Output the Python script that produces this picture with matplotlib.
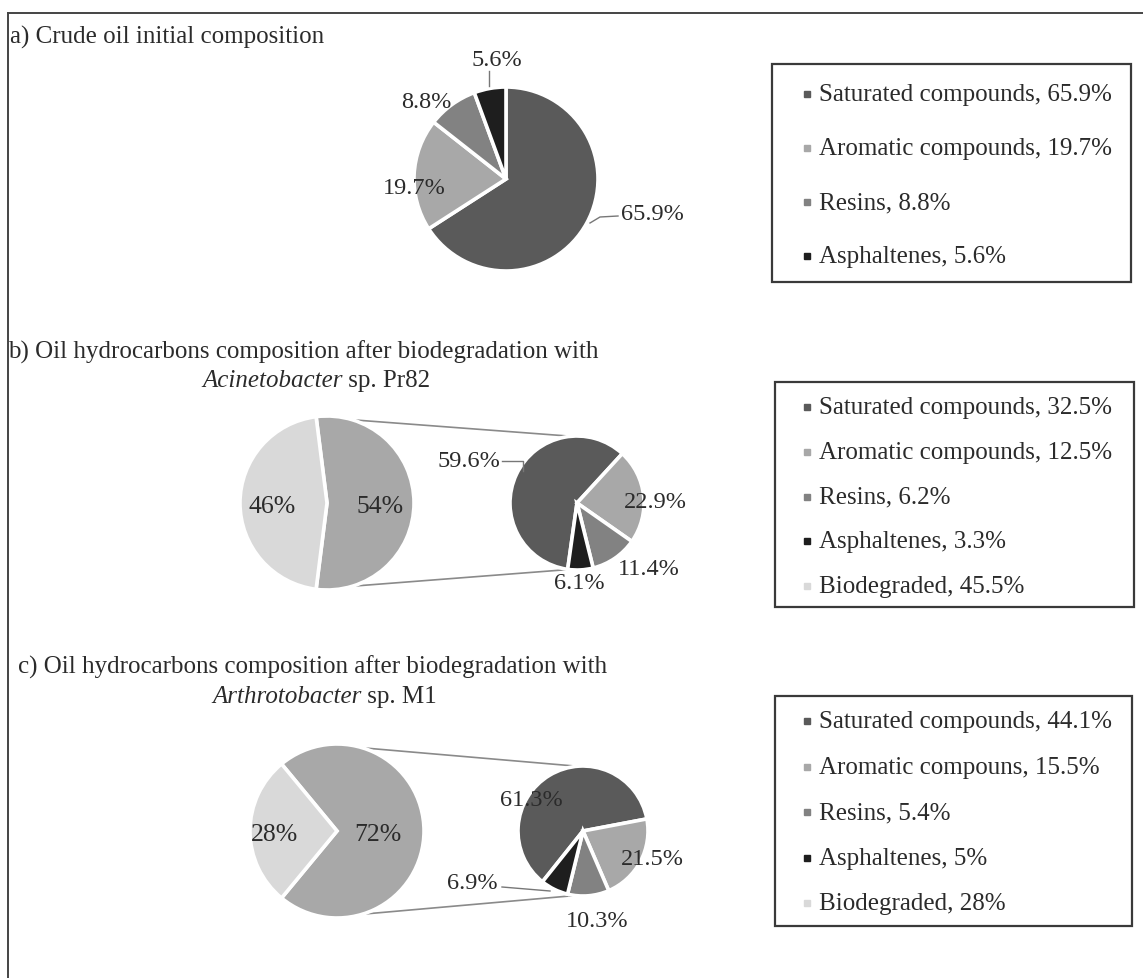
import numpy as np
import matplotlib
matplotlib.use("Agg")
import matplotlib.pyplot as plt
from matplotlib.patches import Rectangle, ConnectionPatch

# ---------------- data ----------------
categories = ["Saturated compounds", "Aromatic compounds", "Resins", "Asphaltenes"]
crude_values = [65.9, 19.7, 8.8, 5.6]
crude_labels = ["65.9%", "19.7%", "8.8%", "5.6%"]

b_main_values = [54, 46]
b_main_labels = ["54%", "46%"]
b_sub_values = [59.6, 22.9, 11.4, 6.1]
b_sub_labels = ["59.6%", "22.9%", "11.4%", "6.1%"]

c_main_values = [72, 28]
c_main_labels = ["72%", "28%"]
c_sub_values = [61.3, 21.5, 10.3, 6.9]
c_sub_labels = ["61.3%", "21.5%", "10.3%", "6.9%"]

legend_a = ["Saturated compounds, 65.9%", "Aromatic compounds, 19.7%",
            "Resins, 8.8%", "Asphaltenes, 5.6%"]
legend_b = ["Saturated compounds, 32.5%", "Aromatic compounds, 12.5%",
            "Resins, 6.2%", "Asphaltenes, 3.3%", "Biodegraded, 45.5%"]
legend_c = ["Saturated compounds, 44.1%", "Aromatic compouns, 15.5%",
            "Resins, 5.4%", "Asphaltenes, 5%", "Biodegraded, 28%"]

# ---------------- style ----------------
C_SAT, C_ARO, C_RES, C_ASP, C_BIO = "#5a5a5a", "#a8a8a8", "#828282", "#1e1e1e", "#d9d9d9"
comp_colors = [C_SAT, C_ARO, C_RES, C_ASP]
leg_colors5 = [C_SAT, C_ARO, C_RES, C_ASP, C_BIO]
TXT = "#2b2b2b"
FONT = "Liberation Serif"
W, H = 1143, 979

plt.rcParams["font.family"] = [FONT, "DejaVu Serif"]

fig = plt.figure(figsize=(W / 100, H / 100), dpi=100)
fig.patch.set_facecolor("white")

ov = fig.add_axes([0, 0, 1, 1])
ov.set_xlim(0, W)
ov.set_ylim(H, 0)
ov.axis("off")
ov.set_zorder(10)


def pie_axes(cx, cy, r):
    s = 2.5 * r
    ax = fig.add_axes([(cx - s / 2) / W, 1 - (cy + s / 2) / H, s / W, s / H])
    ax.set_zorder(1)
    return ax


wp = dict(edgecolor="white", linewidth=2.6)

# ---------------- frame ----------------
ov.plot([8, 8], [H, 14], color="#444444", lw=1.4)
ov.plot([8, W], [14, 14], color="#444444", lw=1.4)

# ---------------- titles ----------------
fs_title = 18
ov.text(10, 37, "a) Crude oil initial composition", fontsize=fs_title, color=TXT, va="center")
ov.text(8, 352, "b) Oil hydrocarbons composition after biodegradation with",
        fontsize=fs_title, color=TXT, va="center")
ov.text(18, 667, "c) Oil hydrocarbons composition after biodegradation with",
        fontsize=fs_title, color=TXT, va="center")

# italic genus names followed by regular text
t1 = ov.text(202, 381, "Acinetobacter", fontsize=fs_title, color=TXT, va="center", style="italic")
t2 = ov.text(212, 697, "Arthrotobacter", fontsize=fs_title, color=TXT, va="center", style="italic")
fig.canvas.draw()
for t, rest in [(t1, " sp. Pr82"), (t2, " sp. M1")]:
    bb = t.get_window_extent()
    x_end = ov.transData.inverted().transform((bb.x1, bb.y0))[0]
    ov.text(x_end, t.get_position()[1], rest, fontsize=fs_title, color=TXT, va="center")

# ---------------- pie a ----------------
axa = pie_axes(506, 180, 92)
axa.pie(crude_values, colors=comp_colors, startangle=90, counterclock=False, wedgeprops=wp)
axa.set_xlim(-1.25, 1.25); axa.set_ylim(-1.25, 1.25)

fs_lab = 17.5
ov.text(652, 214, crude_labels[0], fontsize=fs_lab, color=TXT, ha="center", va="center")
ov.text(414, 188, crude_labels[1], fontsize=fs_lab, color=TXT, ha="center", va="center")
ov.text(426, 102, crude_labels[2], fontsize=fs_lab, color=TXT, ha="center", va="center")
ov.text(497, 60, crude_labels[3], fontsize=fs_lab, color=TXT, ha="center", va="center")
ov.plot([590, 600, 618], [224, 218, 217], color="#777777", lw=1.0)
ov.plot([489, 489], [72, 87], color="#777777", lw=1.0)


# ---------------- pie-of-pie helper ----------------
def pie_of_pie(main_vals, sub_vals, sub_start, cmain, rmain, csub, rsub):
    axm = pie_axes(cmain[0], cmain[1], rmain)
    half = main_vals[0] * 3.6 / 2
    axm.pie(main_vals, colors=[C_ARO, C_BIO], startangle=-half, counterclock=True, wedgeprops=wp)
    axm.set_xlim(-1.25, 1.25); axm.set_ylim(-1.25, 1.25)
    axs = pie_axes(csub[0], csub[1], rsub)
    axs.pie(sub_vals, colors=comp_colors, startangle=sub_start, counterclock=False, wedgeprops=wp)
    axs.set_xlim(-1.25, 1.25); axs.set_ylim(-1.25, 1.25)
    for am, asb in [(73, 95), (-73, -97)]:
        pa = (np.cos(np.radians(am)), np.sin(np.radians(am)))
        pb = (np.cos(np.radians(asb)), np.sin(np.radians(asb)))
        con = ConnectionPatch(xyA=pa, coordsA=axm.transData, xyB=pb, coordsB=axs.transData,
                              color="#8a8a8a", lw=1.2)
        fig.add_artist(con)
    return axm, axs


# ---------------- pie b ----------------
pie_of_pie(b_main_values, b_sub_values, 262, (327, 504), 87, (577, 504), 67)
ov.text(380, 507, b_main_labels[0], fontsize=18.5, color=TXT, ha="center", va="center")
ov.text(272, 507, b_main_labels[1], fontsize=18.5, color=TXT, ha="center", va="center")
ov.text(500, 462, b_sub_labels[0], fontsize=fs_lab, color=TXT, ha="right", va="center")
ov.text(655, 503, b_sub_labels[1], fontsize=fs_lab, color=TXT, ha="center", va="center")
ov.text(649, 570, b_sub_labels[2], fontsize=fs_lab, color=TXT, ha="center", va="center")
ov.text(579, 584, b_sub_labels[3], fontsize=fs_lab, color=TXT, ha="center", va="center")
ov.plot([502, 523, 523], [462, 462, 472], color="#777777", lw=1.0)

# ---------------- pie c ----------------
pie_of_pie(c_main_values, c_sub_values, 231.4, (337, 832), 87, (583, 832), 65)
ov.text(378, 835, c_main_labels[0], fontsize=18.5, color=TXT, ha="center", va="center")
ov.text(275, 835, c_main_labels[1], fontsize=18.5, color=TXT, ha="center", va="center")
ov.text(531, 801, c_sub_labels[0], fontsize=fs_lab, color=TXT, ha="center", va="center")
ov.text(652, 860, c_sub_labels[1], fontsize=fs_lab, color=TXT, ha="center", va="center")
ov.text(597, 922, c_sub_labels[2], fontsize=fs_lab, color=TXT, ha="center", va="center")
ov.text(472, 884, c_sub_labels[3], fontsize=fs_lab, color=TXT, ha="center", va="center")
ov.plot([502, 550], [888, 892], color="#777777", lw=1.0)


# ---------------- legends ----------------
def legend_box(x0, y0, x1, y1, y_first, step, labels, colors):
    ov.add_patch(Rectangle((x0, y0), x1 - x0, y1 - y0, fill=False,
                           edgecolor="#3a3a3a", lw=1.6))
    for i, (lab, c) in enumerate(zip(labels, colors)):
        y = y_first + i * step
        ov.plot(807, y, "s", ms=4.5, color=c, mec=c)
        ov.text(819, y, lab, fontsize=18, color=TXT, va="center")


legend_box(772, 65, 1131, 283, 95, 54, legend_a, comp_colors)
legend_box(775, 383, 1134, 608, 408, 44.8, legend_b, leg_colors5)
legend_box(775, 697, 1132, 927, 722, 45.6, legend_c, leg_colors5)

fig.savefig("out.png", dpi=100, facecolor="white")
